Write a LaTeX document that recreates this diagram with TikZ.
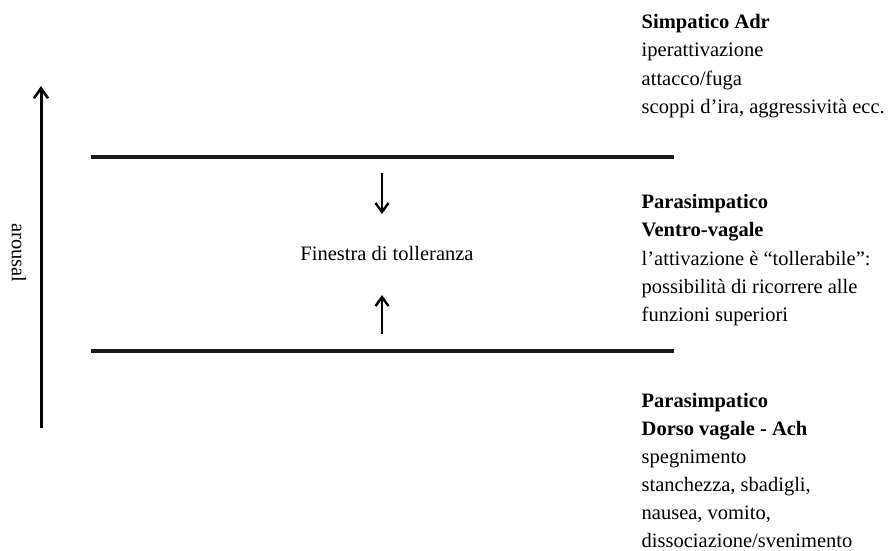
\documentclass[tikz,border=0pt]{standalone}
\usepackage{fontspec}
\setmainfont{Liberation Serif}
\usetikzlibrary{arrows.meta}
\begin{document}
\begin{tikzpicture}[x=1pt,y=-1pt,
  txt/.style={inner sep=0pt, font=\fontsize{20.5}{28.3}\selectfont},
  block/.style={txt, align=left, anchor=north west},
  bar/.style={line width=4pt, draw=black!90},
  bigarrow/.style={line width=3pt, -{Straight Barb[length=10pt,width=14pt,line width=2.6pt]}},
  smallarrow/.style={line width=2.6pt, -{Straight Barb[length=9pt,width=13pt,line width=2.4pt]}}]
\useasboundingbox (0,0) rectangle (894,551);
% arousal axis
\coordinate (ab) at (41,428);
\coordinate (at) at (41,86);
\draw[bigarrow] (ab) -- (at);
\node[txt, rotate=-90, anchor=base] (arousal) at (12,253) {arousal};
% window bars
\coordinate (t1) at (91,157);
\coordinate (t2) at (674,157);
\coordinate (b1) at (91,350.5);
\coordinate (b2) at (674,350.5);
\draw[bar] (t1) -- (t2);
\draw[bar] (b1) -- (b2);
% inner arrows
\coordinate (d1) at (382,173);
\coordinate (d2) at (382,214);
\coordinate (u1) at (382,334);
\coordinate (u2) at (382,295);
\draw[smallarrow] (d1) -- (d2);
\draw[smallarrow] (u1) -- (u2);
\node[txt, anchor=base] (fin) at (387,260) {Finestra di tolleranza};
% right blocks
\node[block] (simp) at (641.5,14) {\textbf{Simpatico Adr}\\iperattivazione\\attacco/fuga\\scoppi d’ira, aggressività ecc.};
\node[block] (ventro) at (641.5,194) {\textbf{Parasimpatico}\\\textbf{Ventro-vagale}\\l’attivazione è “tollerabile”:\\possibilità di ricorrere alle\\funzioni superiori};
\node[block, font=\fontsize{20.5}{28}\selectfont] (dorso) at (641.5,393) {\textbf{Parasimpatico}\\\textbf{Dorso vagale - Ach}\\spegnimento\\stanchezza, sbadigli,\\nausea, vomito,\\dissociazione/svenimento};
\end{tikzpicture}
\end{document}
